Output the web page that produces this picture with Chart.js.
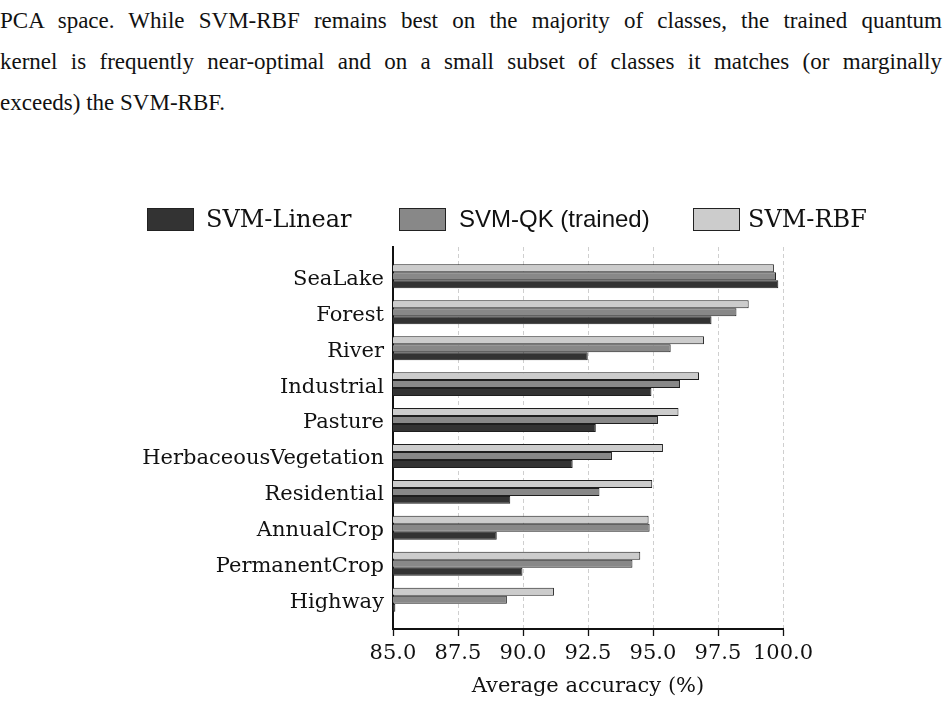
<!DOCTYPE html>
<html>
<head>
<meta charset="utf-8">
<script src="https://cdn.jsdelivr.net/npm/chart.js@4"></script>
<style>
  html, body { margin:0; padding:0; background:#fff; }
  body { width:944px; height:703px; position:relative; overflow:hidden; }
  #para { position:absolute; left:0; top:0px; width:942px; font-family:"Liberation Serif", serif; font-size:23px; color:#111; line-height:41px; }
  #para div { text-align:justify; text-align-last:justify; white-space:nowrap; }
  #para div.last { text-align-last:left; }
  #legend { position:absolute; left:0; top:0; width:944px; height:240px; }
  .li { position:absolute; top:206px; height:26px; display:flex; align-items:center; white-space:nowrap; }
  .li .box { width:47px; height:23px; border:1px solid #222; box-sizing:border-box; }
  .li .t { font-family:"DejaVu Serif", serif; font-size:24px; color:#111; }
  .li .t.sans { font-family:"Liberation Sans", Arial, sans-serif; font-size:24px; }
  canvas { position:absolute; left:0; top:0; }
</style>
</head>
<body>
<div id="para">
  <div>PCA space. While SVM-RBF remains best on the majority of classes, the trained quantum</div>
  <div>kernel is frequently near-optimal and on a small subset of classes it matches (or marginally</div>
  <div class="last">exceeds) the SVM-RBF.</div>
</div>
<canvas id="c" width="944" height="703"></canvas>
<div id="legend"></div>
<script>
const categories = ['SeaLake','Forest','River','Industrial','Pasture','HerbaceousVegetation','Residential','AnnualCrop','PermanentCrop','Highway'];
const svmLinear = [99.82, 97.25, 92.49, 94.94, 92.80, 91.91, 89.51, 88.99, 89.98, 85.09];
const svmQK     = [99.73, 98.21, 95.68, 96.04, 95.19, 93.42, 92.94, 94.87, 94.21, 89.38];
const svmRBF    = [99.65, 98.68, 96.96, 96.77, 95.98, 95.38, 94.97, 94.83, 94.51, 91.19];
const xTicks = [85.0, 87.5, 90.0, 92.5, 95.0, 97.5, 100.0];
const seriesNames = ['SVM-Linear', 'SVM-QK (trained)', 'SVM-RBF'];
const seriesColors = ['#333333', '#888888', '#cccccc'];

const toPts = arr => arr.map((v, i) => ({x: v, y: i}));

// dataset order top-to-bottom within a group: RBF, QK, Linear
const datasets = [
  {label: seriesNames[2], data: toPts(svmRBF), backgroundColor: seriesColors[2]},
  {label: seriesNames[1], data: toPts(svmQK), backgroundColor: seriesColors[1]},
  {label: seriesNames[0], data: toPts(svmLinear), backgroundColor: seriesColors[0]},
].map(d => Object.assign(d, {borderColor:'#1e1e1e', borderWidth:1, borderSkipped:false, categoryPercentage:0.667, barPercentage:1.0}));

const serif = '"DejaVu Serif", serif';

const chart = new Chart(document.getElementById('c'), {
  type: 'bar',
  data: { datasets },
  options: {
    responsive: false,
    animation: false,
    indexAxis: 'y',
    layout: { padding: { top: 247, right: 161, left: 0, bottom: 0 } },
    plugins: { legend: { display: false }, tooltip: { enabled: false } },
    scales: {
      x: {
        type: 'linear',
        position: 'bottom',
        min: xTicks[0], max: xTicks[xTicks.length - 1],
        afterBuildTicks: s => { s.ticks = xTicks.map(v => ({value: v})); },
        ticks: { callback: v => Number(v).toFixed(1), color:'#111', font:{family:serif, size:21}, padding:5, maxRotation:0, autoSkip:false },
        grid: { color:'#cfcfcf', lineWidth:1, drawTicks:true, tickLength:7, tickColor:'#111', tickWidth:1.3, tickBorderDash:[] },
        border: { display:true, color:'#111', width:2, dash:[4,3], z:1 },
        title: { display:true, text:'Average accuracy (%)', color:'#111', font:{family:serif, size:21}, padding:{top:2, bottom:4} },
        afterFit: s => { s.height = 74; }
      },
      y: {
        type: 'linear',
        reverse: true,
        offset: false,
        min: -0.817, max: categories.length - 1 + 0.817,
        afterBuildTicks: s => { s.ticks = categories.map((c, i) => ({value: i})); },
        ticks: { callback: v => categories[v] ?? '', color:'#111', font:{family:serif, size:21}, padding:9, labelOffset:3, autoSkip:false },
        grid: { display:false, drawTicks:false, offset:false },
        border: { display:true, color:'#111', width:2 },
        afterFit: s => { s.width = 393; }
      }
    }
  }
});

// HTML legend built from datasets, in the reference order
const legendOrder = [seriesNames[0], seriesNames[1], seriesNames[2]];
const legendLeft = [147, 399, 693];
const legendGap = [12, 13, 8];
const leg = document.getElementById('legend');
legendOrder.forEach((name, k) => {
  const ds = chart.data.datasets.find(d => d.label === name);
  const item = document.createElement('div');
  item.className = 'li';
  item.style.left = legendLeft[k] + 'px';
  const box = document.createElement('span');
  box.className = 'box';
  box.style.background = ds.backgroundColor;
  box.style.marginRight = legendGap[k] + 'px';
  const t = document.createElement('span');
  t.className = 't' + (name.includes('QK') ? ' sans' : '');
  t.textContent = name;
  item.appendChild(box); item.appendChild(t);
  leg.appendChild(item);
});
</script>
</body>
</html>
